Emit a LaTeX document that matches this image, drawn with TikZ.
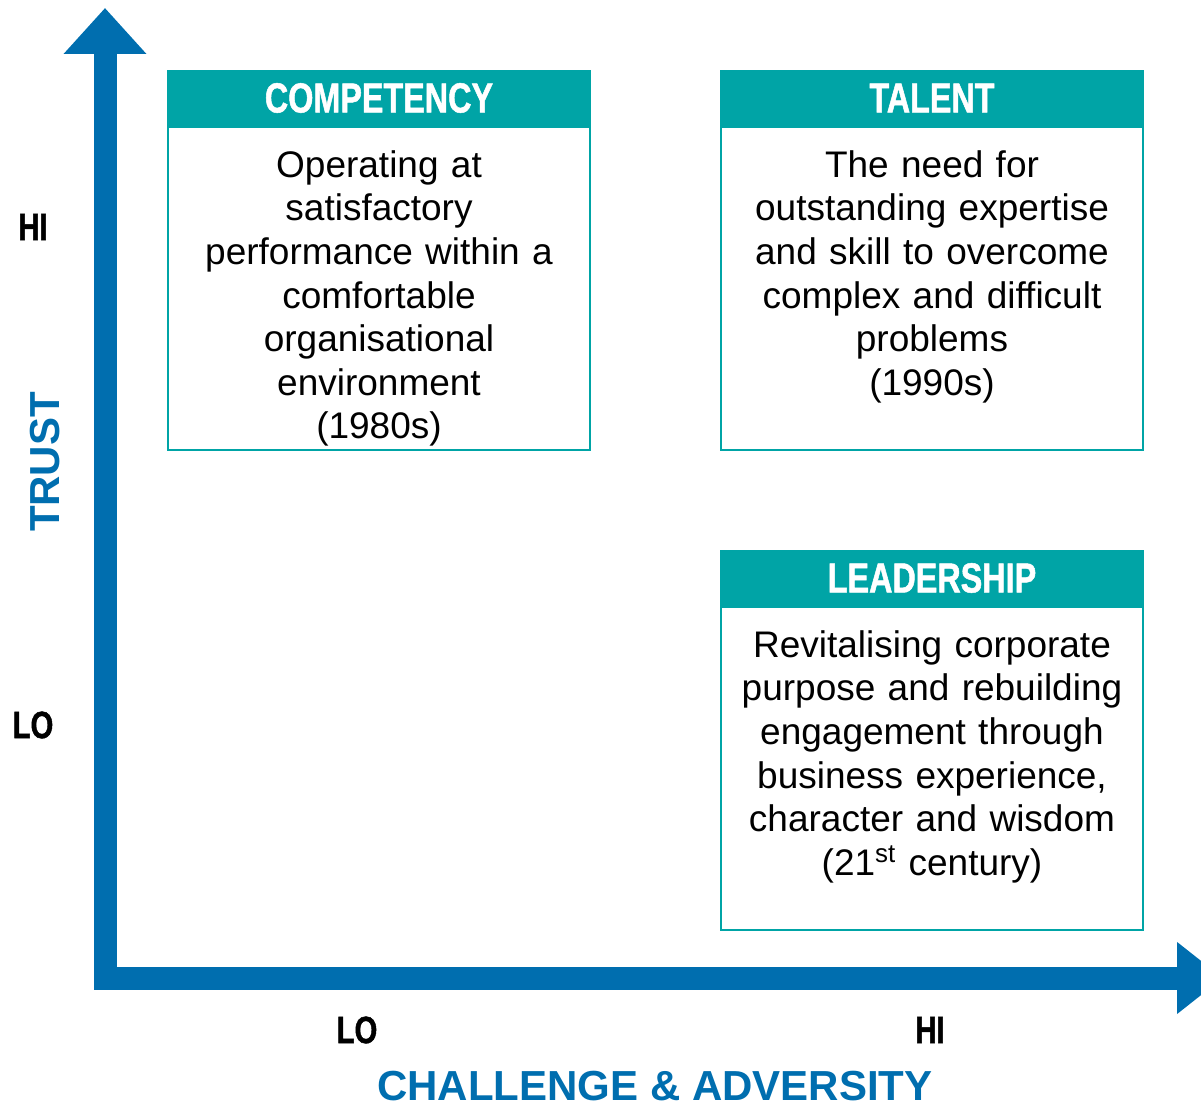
\documentclass[tikz,border=0pt]{standalone}
\usepackage{fontspec}
\setmainfont{Liberation Sans}
\newfontfamily\condfont[FakeStretch=0.77, BoldFont={Liberation Sans Bold}, BoldFeatures={FakeBold=1.2}]{Liberation Sans}
\usepackage{xcolor}
\usetikzlibrary{positioning, arrows.meta}
\definecolor{axisblue}{RGB}{0,110,175}
\definecolor{boxteal}{RGB}{0,164,166}

\begin{document}
\begin{tikzpicture}[x=0.5pt, y=-0.5pt,
		header/.style={fill=boxteal, draw=boxteal, line width=1pt, text=white, minimum width=211pt, minimum height=27pt, inner sep=0pt, font=\condfont\bfseries\fontsize{21}{24}\selectfont},
		panel/.style={draw=boxteal, line width=1pt, minimum width=211pt, minimum height=161.5pt, inner sep=0pt},
		body/.style={text width=205pt, align=center, inner sep=0pt, font=\fontsize{18.5}{21.8}\selectfont},
		level/.style={font=\condfont\bfseries\fontsize{19}{22}\selectfont},
		axislabel/.style={text=axisblue, font=\bfseries\fontsize{21}{24}\selectfont}]
		\useasboundingbox (0,0) rectangle (1201,1107);
		
		% Define the boxes
		\node (comphead) [header, anchor=north west] at (167,70) {COMPETENCY};
		\node (comppanel) [panel, below=0pt of comphead] {};
		\node (comptext) [body, below=12pt of comphead] {Operating at\\ satisfactory\\ performance within a\\ comfortable\\ organisational\\ environment\\ (1980s)};
		
		\node (talenthead) [header, right=64.5pt of comphead] {TALENT};
		\node (talentpanel) [panel, below=0pt of talenthead] {};
		\node (talenttext) [body, below=12pt of talenthead] {The need for\\ outstanding expertise\\ and skill to overcome\\ complex and difficult\\ problems\\ (1990s)};
		
		\node (leadhead) [header, below=49.5pt of talentpanel] {LEADERSHIP};
		\node (leadpanel) [panel, below=0pt of leadhead] {};
		\node (leadtext) [body, below=12pt of leadhead] {Revitalising corporate\\ purpose and rebuilding\\ engagement through\\ business experience,\\ character and wisdom\\ (21\textsuperscript{st} century)};
		
		% Define the axes
		\coordinate (ytop) at (105,8);
		\coordinate (origin) at (105,978);
		\coordinate (xend) at (1223,978);
		\draw[axisblue, line width=11.5pt, {Triangle[width=40pt,length=23pt]}-{Triangle[width=34.5pt,length=23pt]}] (ytop) -- (origin) -- (xend);
		
		% Axis labels
		\node (trusthi) [level] at (33,227) {HI};
		\node (trustlo) [level] at (33,725) {LO};
		\node (challo) [level] at (357,1030) {LO};
		\node (chalhi) [level] at (930,1030) {HI};
		\node (trust) [axislabel, rotate=90] at (45,462) {TRUST};
		\node (challenge) [axislabel] at (655,1086) {CHALLENGE \& ADVERSITY};
	\end{tikzpicture}
\end{document}
